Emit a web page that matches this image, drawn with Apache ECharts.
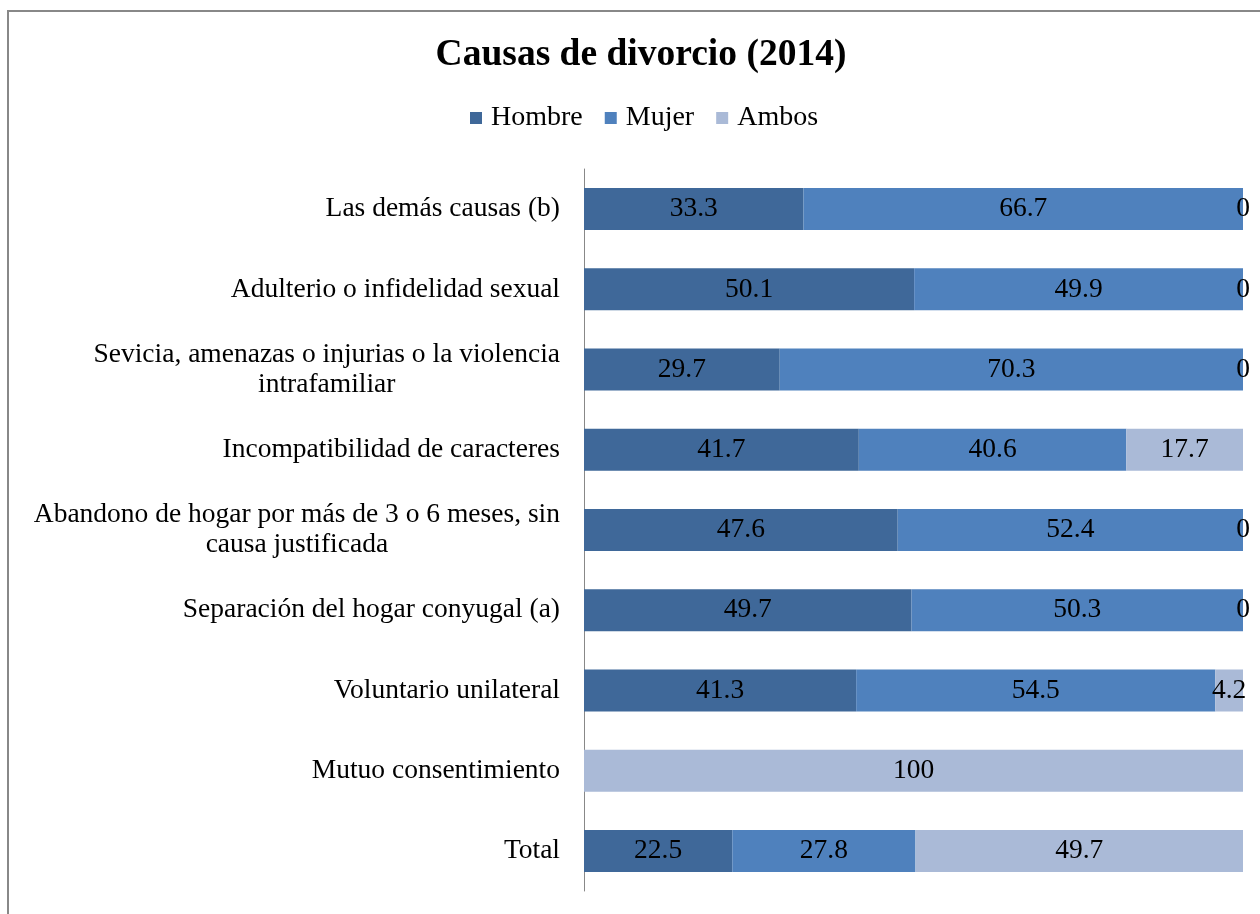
<!DOCTYPE html>
<html>
<head>
<meta charset="utf-8">
<script src="https://cdn.jsdelivr.net/npm/echarts@6/dist/echarts.min.js"></script>
<style>
html,body{margin:0;padding:0;background:#fff;}
#chart{width:1260px;height:914px;}
</style>
</head>
<body>
<div id="chart"></div>
<script>
const categories = [
  'Total',
  'Mutuo consentimiento',
  'Voluntario unilateral',
  'Separación del hogar conyugal (a)',
  'Abandono de hogar por más de 3 o 6 meses, sin\ncausa justificada',
  'Incompatibilidad de caracteres',
  'Sevicia, amenazas o injurias o la violencia\nintrafamiliar',
  'Adulterio o infidelidad sexual',
  'Las demás causas (b)'
];
const hombre = [22.5, 0, 41.3, 49.7, 47.6, 41.7, 29.7, 50.1, 33.3];
const mujer  = [27.8, 0, 54.5, 50.3, 52.4, 40.6, 70.3, 49.9, 66.7];
const ambos  = [49.7, 100, 4.2, 0, 0, 17.7, 0, 0, 0];
const seriesNames = ['Hombre', 'Mujer', 'Ambos'];
const colors = ['#3F6899', '#4F81BD', '#AABAD7'];

const FONT = '"Liberation Serif", "Times New Roman", serif';
const FS = 27.5;

function mkSeries(name, data, color, showZero) {
  return {
    name: name, type: 'bar', stack: 'total', data: data,
    barWidth: 42,
    itemStyle: { color: color },
    label: {
      show: true, position: 'inside', color: '#000',
      fontFamily: FONT, fontSize: FS,
      formatter: function (p) {
        if (p.value === 0 && !showZero) return '';
        return String(p.value);
      }
    },
    emphasis: { disabled: true }
  };
}

const chart = echarts.init(document.getElementById('chart'));
chart.setOption({
  animation: false,
  backgroundColor: '#fff',
  title: {
    text: 'Causas de divorcio (2014)',
    left: 636, top: 31, textAlign: 'center',
    textStyle: { fontFamily: FONT, fontSize: 37.5, fontWeight: 'bold', color: '#000' }
  },
  legend: {
    data: seriesNames,
    top: 99, left: 465,
    itemWidth: 12, itemHeight: 12, itemGap: 22,
    icon: 'rect',
    textStyle: { fontFamily: FONT, fontSize: 28, color: '#000', padding: [0, 0, 0, 4] }
  },
  grid: { left: 584, right: 17, top: 169, bottom: 23, containLabel: false },
  xAxis: {
    type: 'value', min: 0, max: 100, show: false
  },
  yAxis: {
    type: 'category', data: categories,
    axisLine: { show: true, lineStyle: { color: '#888', width: 1 } },
    axisTick: { show: false },
    axisLabel: {
      margin: 24, color: '#000', fontFamily: FONT, fontSize: FS, lineHeight: 30,
      formatter: function (v) {
        if (v.indexOf('\n') >= 0) {
          return v.split('\n').map(function (l) { return '{c|' + l + '}'; }).join('\n');
        }
        return v;
      },
      rich: { c: { align: 'center', fontFamily: FONT, fontSize: FS, color: '#000', lineHeight: 30 } }
    }
  },
  graphic: [{
    type: 'polyline', silent: true,
    shape: { points: [[8, 914], [8, 11], [1260, 11]] },
    style: { stroke: '#888', lineWidth: 2, fill: null }
  }],
  series: [
    mkSeries('Hombre', hombre, colors[0], false),
    mkSeries('Mujer', mujer, colors[1], false),
    mkSeries('Ambos', ambos, colors[2], true)
  ]
});
</script>
</body>
</html>
